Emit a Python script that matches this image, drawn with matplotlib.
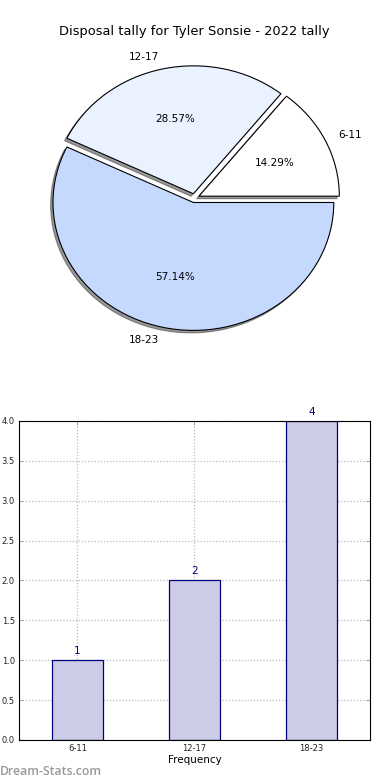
import matplotlib
matplotlib.use('Agg')
import matplotlib.pyplot as plt
import numpy as np

# данные
player = 'Tyler Sonsie'
season = '2022'
bins = ['6-11', '12-17', '18-23']
counts = [1, 2, 4]
pie_colors = ['#ffffff', '#eaf1ff', '#c5d9ff']


def main():
    fig = plt.figure(figsize=(3.9, 7.8), dpi=100)

    # круговая диаграмма
    ax1 = fig.add_axes([0.0487, 0.541, 0.9, 0.41])
    ax1.pie(counts, labels=bins, colors=pie_colors,
            explode=[0.035] * len(counts),
            shadow={'ox': -0.012, 'oy': -0.014,
                    'facecolor': '#333333', 'edgecolor': '#333333'},
            autopct='%.2f%%', startangle=0,
            wedgeprops={'edgecolor': 'k', 'linewidth': 0.8},
            textprops={'fontsize': 7.5})
    ax1.set_aspect('auto')
    ax1.set_xlim(-1.25, 1.25)
    ax1.set_ylim(-1.25, 1.25)
    ax1.set_title(f'Disposal tally for {player} - {season} tally', fontsize=9.4, pad=2)

    # столбцы
    ax2 = fig.add_axes([0.0487, 0.0513, 0.9, 0.409])
    x = np.arange(len(bins))
    ax2.bar(x, counts, width=0.44, color='#ccccE6', edgecolor='#000080', linewidth=0.9, zorder=2)
    for xi, c in zip(x, counts):
        ax2.annotate(str(c), (xi, c), xytext=(0, 3), textcoords='offset points',
                     ha='center', va='bottom', fontsize=7.5, color='#000080')
    ax2.set_xlim(-0.5, len(bins) - 0.5)
    ax2.set_ylim(0, 4)
    ax2.set_yticks(np.arange(0, 4.01, 0.5))
    ax2.set_yticklabels([f'{v:.1f}' for v in np.arange(0, 4.01, 0.5)])
    ax2.set_xticks(x)
    ax2.set_xticklabels(bins)
    ax2.tick_params(axis='both', labelsize=6, direction='in', top=True, right=True,
                    length=3, width=0.6, pad=3, color='#999999', labelcolor='#222222')
    ax2.grid(c='#bbbbbb', lw=0.9, ls=(0, (1, 1.5)), zorder=0)
    ax2.set_axisbelow(True)
    ax2.set_xlabel('Frequency', fontsize=7.5, labelpad=1)
    for s in ax2.spines.values():
        s.set_linewidth(0.8)

    fig.text(0.0, 0.003, 'Dream-Stats.com', fontsize=8.8, color='#999999',
             family=['Open Sans', 'DejaVu Sans'], fontweight='semibold',
             ha='left', va='bottom')

    plt.savefig('out.png', dpi=100)


if __name__ == '__main__':
    main()
